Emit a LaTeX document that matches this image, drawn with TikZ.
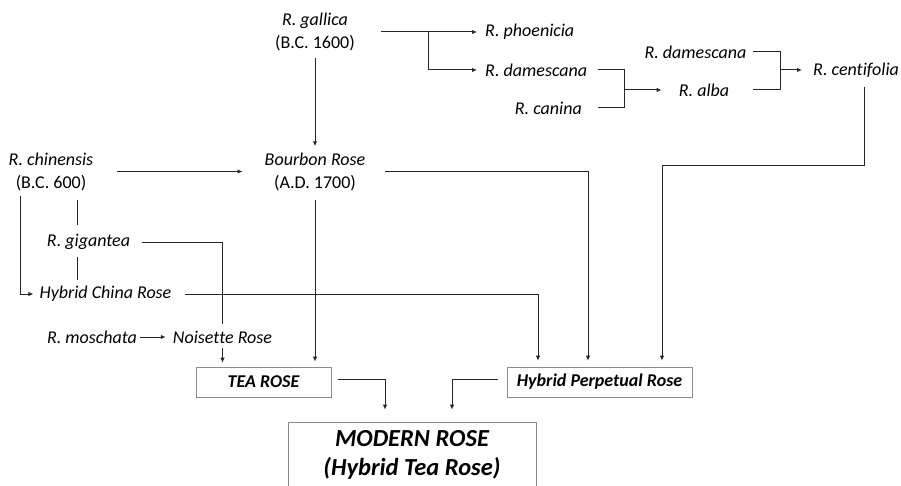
\documentclass[tikz,border=0pt]{standalone}
\usepackage{fontspec}
\setmainfont[Ligatures=NoCommon]{Carlito}
\usetikzlibrary{arrows.meta, positioning, calc}

\begin{document}
\begin{tikzpicture}[
    x=1pt, y=-1pt,
    sp/.style={font=\fontsize{18}{23}\selectfont\itshape, inner sep=2pt, align=center},
    hyb/.style={draw=black!45, line width=0.6pt, font=\fontsize{18}{20}\selectfont\bfseries\itshape, inner sep=2pt, minimum height=30pt},
    modern/.style={hyb, font=\fontsize{24.5}{29}\selectfont\bfseries\itshape, align=center},
    ln/.style={black!85, line width=1pt},
    arr/.style={ln, -{Latex[length=5pt, width=4.5pt]}},
]
\useasboundingbox (0,0) rectangle (901,486);

% ── Species ──
\node[sp] (gal) at (315, 32) {R. gallica\\\upshape(B.C. 1600)};
\node[sp, anchor=west] (phoe) at (483, 32) {R. phoenicia};
\node[sp, anchor=west] (dam1) at (483, 70) {R. damescana};
\node[sp, anchor=east] (can) at (584, 108) {R. canina};
\node[sp] (alba) at (704, 90) {R. alba};
\node[sp] (dam2) at (695.5, 52) {R. damescana};
\node[sp, anchor=west] (cent) at (811, 70) {R. centifolia};

\node[sp] (bour) at (315, 171.5) {Bourbon Rose\\\upshape(A.D. 1700)};
\node[sp] (chin) at (51, 171.5) {R. chinensis\\\upshape(B.C. 600)};
\node[sp] (gig) at (88.5, 242) {R. gigantea};
\node[sp] (hcr) at (105.5, 294) {Hybrid China Rose};
\node[sp] (mosc) at (92, 337) {R. moschata};
\node[sp] (nois) at (222.5, 337) {Noisette Rose};

% ── Hybrid groups ──
\node[hyb, minimum width=135pt] (tea) at (263.5, 382) {TEA ROSE};
\node[hyb, minimum width=185pt] (hpr) at (599.5, 382) {Hybrid Perpetual Rose};
\node[modern, minimum width=248pt, minimum height=66pt] (mod) at (412, 455) {MODERN ROSE\\(Hybrid Tea Rose)};

% ── Junctions ──
\coordinate (gsplit) at (428, 32);
\coordinate (j1) at (624, 90);
\coordinate (j2) at (780, 70);
\coordinate (cbend) at (662, 166);

% ── Upper lineage ──
\draw[arr, shorten <=24pt, shorten >=6pt] (gal.east |- phoe) -- (phoe.west);
\draw[arr, shorten >=6pt] (gsplit) |- (dam1.west);
\draw[ln, shorten <=9pt] (dam1.east) -| (j1);
\draw[ln, shorten <=14pt] (can.east) -| (j1);
\draw[arr, shorten >=15pt] (j1) -- (alba.west);
\draw[ln, shorten <=4pt] (dam2.east) -| (j2);
\draw[ln, shorten <=22pt] (alba.east) -| (j2);
\draw[arr, shorten >=9pt] (j2) -- (cent.west);
\draw[arr, shorten <=7pt, shorten >=6pt] ([xshift=8.5pt]cent.south) |- (cbend) -- (cbend |- hpr.north);

\draw[arr, shorten <=5pt, shorten >=4pt] (gal) -- (bour);
\draw[arr, shorten <=22pt, shorten >=20pt] (chin) -- (bour);
\draw[arr, shorten <=18pt, shorten >=6pt] (bour.east) -| ([xshift=-11.5pt]hpr.north);
\draw[arr, shorten <=7pt, shorten >=5pt] (bour.south) -- (bour.south |- tea.north);

% ── China lineage ──
\draw[arr, shorten <=3.5pt, shorten >=4pt] ([xshift=-31pt]chin.south) |- (hcr.west);
\draw[ln, shorten <=7.5pt, shorten >=7pt] ([xshift=26pt]chin.south) -- ([xshift=26pt]chin.south |- gig.north);
\draw[ln, shorten <=5pt, shorten >=4pt] ([xshift=-11.5pt]gig.south) -- ([xshift=-11.5pt]gig.south |- hcr.north);
\draw[ln, shorten <=10pt, shorten >=5pt] (gig.east) -| (nois.north);
\draw[arr, shorten <=11pt, shorten >=6pt] (hcr.east) -| ([xshift=-61.5pt]hpr.north);
\draw[arr, shorten <=1pt, shorten >=5pt] (mosc) -- (nois);
\draw[arr, shorten <=3pt, shorten >=4pt] (nois.south) -- (nois.south |- tea.north);

% ── To modern rose ──
\draw[arr, shorten <=7pt, shorten >=12pt] ([yshift=3pt]tea.east) -| ([xshift=-27pt]mod.north);
\draw[arr, shorten <=9pt, shorten >=12pt] ([yshift=3pt]hpr.west) -| ([xshift=40pt]mod.north);

\end{tikzpicture}
\end{document}
